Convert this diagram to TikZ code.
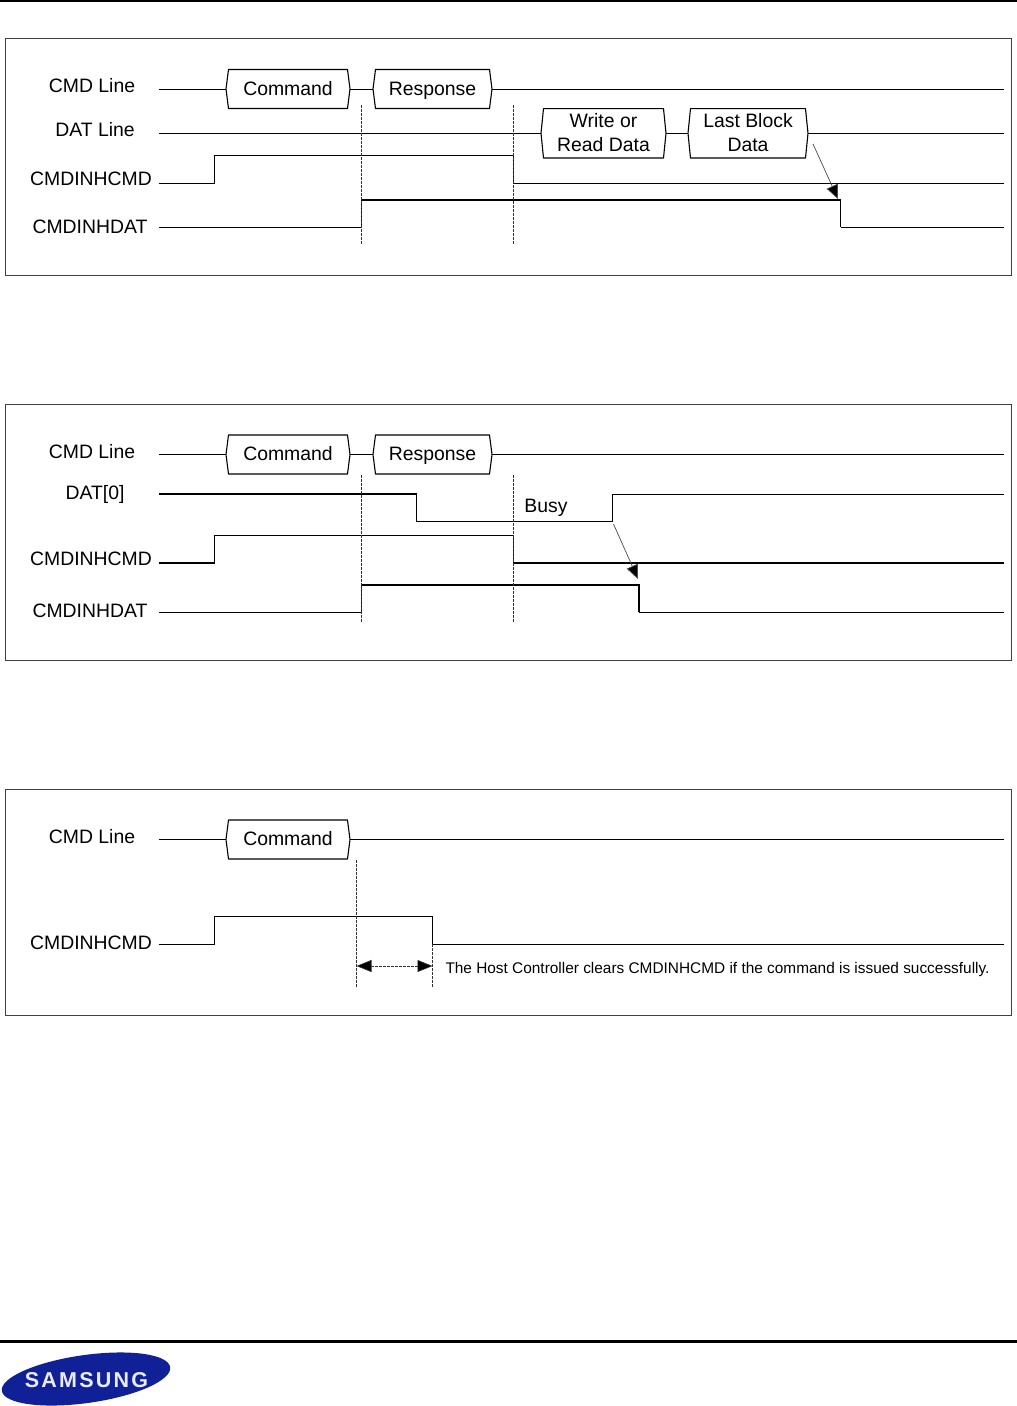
\documentclass[tikz,border=0pt]{standalone}
\usepackage{fontspec}
\setmainfont{Liberation Sans}
\usetikzlibrary{arrows.meta}
\tikzset{
  x=1pt,y=-1pt,
  panel/.style={draw=black!75,line width=0.9pt},
  rulebar/.style={draw=black,line width=3pt},
  wave/.style={draw=black,line width=1pt,line join=miter},
  heavy/.style={draw=black,line width=1.7pt,line join=miter},
  guide/.style={draw=black!80,line width=0.6pt,dash pattern=on 2.5pt off 1.5pt},
  pointer/.style={draw=black!70,line width=0.7pt,-{Triangle[length=14pt,width=12pt,fill=black]}},
  span/.style={draw=black!80,line width=0.6pt,dash pattern=on 2.5pt off 1.5pt,{Triangle[length=15pt,width=12pt,fill=black]}-{Triangle[length=15pt,width=12pt,fill=black]}},
  sig/.style={font=\fontsize{19.4}{21}\selectfont,inner sep=0pt},
  small/.style={font=\fontsize{15.4}{18}\selectfont,inner sep=0pt},
  boxtext/.style={font=\fontsize{19.4}{24}\selectfont,inner sep=0pt,align=center},
  boxline/.style={draw=black,line width=1.1pt,line join=round,fill=white},
}
% \wavebox[text shift]{name}{x left}{x right}{y top}{y bottom}
\newcommand{\wavebox}[5][-0.5]{%
  \path[boxline,draw] (#3+2.5,#4) -- (#3+121.5-2.5+#5-#5,#4) -- (#3+121.5+#5-#5,#4);
}
\newcommand{\wbox}[6][-0.5]{%
  \path[boxline,draw] (#3+2.5,#5) -- (#4-2.5,#5) -- (#4,{(#5+#6)/2}) -- (#4-2.5,#6) -- (#3+2.5,#6) -- (#3,{(#5+#6)/2}) -- cycle;
  \coordinate (#2W) at (#3,{(#5+#6)/2});
  \coordinate (#2E) at (#4,{(#5+#6)/2});
  \coordinate (#2C) at ({(#3+#4)/2},{(#5+#6)/2+#1});
}
\newcommand{\wavetext}[2]{\node[boxtext] (#1) at (#1C) {#2};}
\begin{document}
\begin{tikzpicture}
\useasboundingbox (0,0) rectangle (1017,1406);
\fill[white] (0,0) rectangle (1017,1406);
% page rules
\coordinate (topL) at (0,0.5); \coordinate (topR) at (1017,0.5);
\draw[rulebar] (topL) -- (topR);
\coordinate (botL) at (0,1341); \coordinate (botR) at (1017,1341);
\draw[rulebar] (botL) -- (botR);
% panels
\draw[panel] (5.5,38.5) rectangle (1011.5,275.5);
\draw[panel] (5.5,404.2) rectangle (1011.5,660.5);
\draw[panel] (5.5,789.5) rectangle (1011.5,1015.5);

%%% PANEL 1
\node[sig] (a1) at (92,86) {CMD Line};
\node[sig] (a2) at (95,130) {DAT Line};
\node[sig] (a3) at (91,178.5) {CMDINHCMD};
\node[sig] (a4) at (90,226.5) {CMDINHDAT};
\foreach \n/\x/\y in {aCs/159/89,aCe/1004/89,aDs/159/133.3,aDe/1004/133.3,
  aIs/159/183,aIa/214.5/183,aIb/214.5/155,aIc/513.5/155,aId/513.5/183,aIe/1004/183,
  aHs/159/227,aHa/361.5/227,aHb/361.5/200,aHc/840.5/200,aHd/840.5/227,aHe/1004/227,
  aG1t/361.5/105,aG1b/361.5/245,aG2t/513.5/105,aG2b/513.5/245,aPs/813/144,aPe/838/199}
  {\coordinate (\n) at (\x,\y);}
\wbox[-0.5]{aCmd}{226}{350}{69.5}{108.5}
\wbox[1.5]{aRsp}{373}{492}{69.5}{108.5}
\wbox{aWr}{541}{666}{108.6}{158}
\wbox{aLb}{688}{808}{108.6}{158}
\wavetext{aCmd}{Command}
\wavetext{aRsp}{Response}
\wavetext{aWr}{Write or\\Read Data}
\wavetext{aLb}{Last Block\\Data}
\draw[wave] (aCs) -- (aCmdW);
\draw[wave] (aCmdE) -- (aRspW);
\draw[wave] (aRspE) -- (aCe);
\draw[wave] (aDs) -- (aWrW);
\draw[wave] (aWrE) -- (aLbW);
\draw[wave] (aLbE) -- (aDe);
\draw[wave] (aIs) -- (aIa) -- (aIb) -- (aIc) -- (aId) -- (aIe);
\draw[wave] (aHs) -- (aHa);
\draw[heavy] (aHa) -- (aHb) -- (aHc) -- (aHd);
\draw[wave] (aHd) -- (aHe);
\draw[guide] (aG1t) -- (aG1b);
\draw[guide] (aG2t) -- (aG2b);
\draw[pointer] (aPs) -- (aPe);

%%% PANEL 2
\node[sig] (b1) at (92,451.5) {CMD Line};
\node[sig] (b2) at (95,494.5) {DAT[0]};
\node[sig] (b3) at (91,558.5) {CMDINHCMD};
\node[sig] (b4) at (90,611) {CMDINHDAT};
\node[sig] (b5) at (546,507.5) {Busy};
\foreach \n/\x/\y in {bCs/159/454.5,bCe/1004/454.5,
  bDs/159/494,bDa/416.5/494,bDb/416.5/521,bDc/612.5/521,bDd/612.5/494,bDe/1004/494,
  bIs/159/563,bIa/214.5/563,bIb/214.5/535.5,bIc/513.5/535.5,bId/513.5/563,bIe/1004/563,
  bHs/159/612,bHa/361.5/612,bHb/361.5/585,bHc/639/585,bHd/639/612,bHe/1004/612,
  bG1t/361.5/475,bG1b/361.5/623,bG2t/513.5/475,bG2b/513.5/623,bPs/613.5/524,bPe/638/579}
  {\coordinate (\n) at (\x,\y);}
\wbox[-0.5]{bCmd}{226}{350}{435}{474}
\wbox[1.5]{bRsp}{373}{492}{435}{474}
\wavetext{bCmd}{Command}
\wavetext{bRsp}{Response}
\draw[wave] (bCs) -- (bCmdW);
\draw[wave] (bCmdE) -- (bRspW);
\draw[wave] (bRspE) -- (bCe);
\draw[heavy] (bDs) -- (bDa);
\draw[wave] (bDa) -- (bDb) -- (bDc) -- (bDd) -- (bDe);
\draw[heavy] (bIs) -- (bIa);
\draw[wave] (bIa) -- (bIb) -- (bIc) -- (bId);
\draw[heavy] (bId) -- (bIe);
\draw[wave] (bHs) -- (bHa);
\draw[heavy] (bHa) -- (bHb) -- (bHc) -- (bHd);
\draw[wave] (bHd) -- (bHe);
\draw[guide] (bG1t) -- (bG1b);
\draw[guide] (bG2t) -- (bG2b);
\draw[pointer] (bPs) -- (bPe);

%%% PANEL 3
\node[sig] (c1) at (92,836.5) {CMD Line};
\node[sig] (c2) at (91,942.5) {CMDINHCMD};
\node[small] (c3) at (717.5,970) {The Host Controller clears CMDINHCMD if the command is issued successfully.};
\foreach \n/\x/\y in {cCs/159/839.5,cCe/1004/839.5,
  cIs/159/944,cIa/214.5/944,cIb/214.5/916,cIc/432.5/916,cId/432.5/944,cIe/1004/944,
  cG1t/356.5/860,cG1b/356.5/988,cG2t/432.5/944,cG2b/432.5/988,cAl/356.5/966,cAr/432.5/966}
  {\coordinate (\n) at (\x,\y);}
\wbox[-0.5]{cCmd}{226}{350}{820}{859}
\wavetext{cCmd}{Command}
\draw[wave] (cCs) -- (cCmdW);
\draw[wave] (cCmdE) -- (cCe);
\draw[wave] (cIs) -- (cIa) -- (cIb) -- (cIc);
\draw[heavy] (cIc) -- (cId);
\draw[wave] (cId) -- (cIe);
\draw[guide] (cG1t) -- (cG1b);
\draw[guide] (cG2t) -- (cG2b);
\draw[span] (cAl) -- (cAr);

%%% LOGO
\fill[fill={rgb,255:red,16;green,32;blue,150},rotate around={8:(86,1379)}] (86,1379) ellipse [x radius=85,y radius=24];
\node[font=\fontsize{21.5}{24}\selectfont\bfseries,text=white!92!blue,inner sep=0pt] (logo) at (86.5,1380) {S\kern2.2pt A\kern2.2pt M\kern2.2pt S\kern2.2pt U\kern2.2pt N\kern2.2pt G};
\end{tikzpicture}
\end{document}
